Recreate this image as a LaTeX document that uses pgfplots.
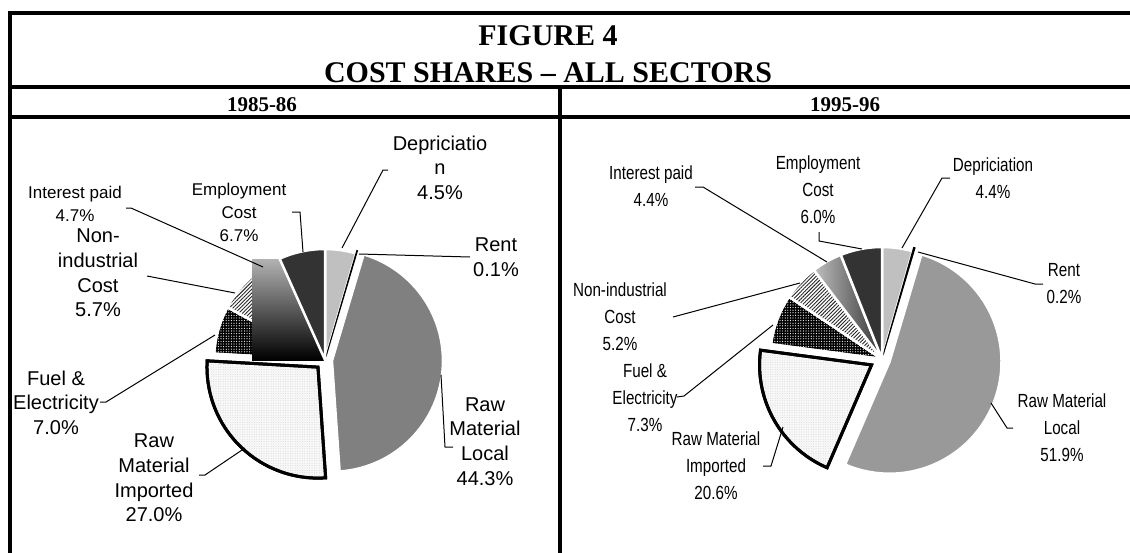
\documentclass[border=0pt]{standalone}
\usepackage{fontspec}
\setmainfont{Liberation Sans}
\newfontfamily\titlefont{Liberation Serif}
\newfontfamily\narrow[FakeStretch=0.8]{Liberation Sans}
\usepackage{pgfplots}
\pgfplotsset{compat=1.18}
\usepackage{pgfplotstable}
\usetikzlibrary{patterns.meta}

\definecolor{lgray}{HTML}{C0C0C0}
\definecolor{mgrayA}{HTML}{808080}
\definecolor{mgrayB}{HTML}{999999}
\definecolor{dgray}{HTML}{333333}

% cost shares in %, explode = offset of the slice in px
\pgfplotstableread{
item share explode
Depreciation 4.5 0
Rent 0.1 3
RawLocal 44.3 7
RawImported 27.0 10
Fuel 7.0 0
NonIndustrial 5.7 0
Interest 4.7 0
Employment 6.7 0
}\pieA
\pgfplotstableread{
item share explode
Depreciation 4.4 0
Rent 0.2 4
RawLocal 51.9 8
RawImported 20.6 12
Fuel 7.3 0
NonIndustrial 5.2 0
Interest 4.4 0
Employment 6.0 0
}\pieB

% start/end angles (clockwise from 12 o'clock) of each slice
\newcommand\pieangles[2]{%
  \xdef\acc{0}%
  \foreach \i in {0,...,7}{%
    \pgfplotstablegetelem{\i}{share}\of#1\let\myv\pgfplotsretval
    \pgfplotstablegetelem{\i}{explode}\of#1\let\mye\pgfplotsretval
    \expandafter\xdef\csname #2s\i\endcsname{\acc}%
    \pgfmathparse{\acc+3.6*\myv}\xdef\acc{\pgfmathresult}%
    \expandafter\xdef\csname #2e\i\endcsname{\acc}%
    \expandafter\xdef\csname #2x\i\endcsname{\mye}%
  }}
\pieangles{\pieA}{A}
\pieangles{\pieB}{B}

% one slice: prefix, row, radius, style
\newcommand\slice[4]{%
  \pgfmathsetmacro\sA{\csname #1s#2\endcsname}%
  \pgfmathsetmacro\eA{\csname #1e#2\endcsname}%
  \pgfmathsetmacro\slx{\csname #1x#2\endcsname*sin((\sA+\eA)/2)}%
  \pgfmathsetmacro\sly{\csname #1x#2\endcsname*cos((\sA+\eA)/2)}%
  \edef\tmp{\noexpand\addplot[#4,domain=\sA:\eA,samples=60,variable=\noexpand\t]
    ({\slx+#3*sin(\noexpand\t)},{\sly+#3*cos(\noexpand\t)}) -- (\slx,\sly) -- cycle;}%
  \tmp}

\tikzset{
  sep/.style={draw=white,line width=1.25pt},
  sDep/.style={sep,fill=lgray},
  sRent/.style={draw=black,line width=0.5pt,fill=black},
  sRMLa/.style={sep,fill=mgrayA},
  sRMLb/.style={sep,fill=mgrayB},
  sRMI/.style={draw=black,line width=1.5pt,fill=black!3,
    postaction={pattern={Dots[distance=1.2pt,radius=0.2pt]},pattern color=black!20}},
  sFuel/.style={sep,fill=black,
    postaction={pattern={Dots[distance=1.3pt,radius=0.3pt]},pattern color=white}},
  sNon/.style={sep,fill=white,
    postaction={pattern={Lines[angle=45,distance=1.3pt,line width=0.45pt]},pattern color=black!85}},
  sIntA/.style={sep,top color=black!30,bottom color=black},
  sIntB/.style={sep,left color=black!25,right color=black!80},
  sEmp/.style={sep,fill=dgray},
  lab/.style={align=center,inner sep=0pt,font=\fontsize{10}{12.3}\selectfont},
  labs/.style={align=center,inner sep=0pt,font=\fontsize{8.5}{11.5}\selectfont},
  labn/.style={align=center,inner sep=0pt,font=\narrow\fontsize{9.5}{13.5}\selectfont},
  lead/.style={line width=0.5pt},
}

\begin{document}
\begin{tikzpicture}
\useasboundingbox (0,0) rectangle (565pt,-276pt);

% 1985-86
\begin{axis}[at={(162.5pt,-180pt)},anchor=center,x=0.5pt,y=0.5pt,
  xmin=-130,xmax=130,ymin=-130,ymax=130,hide axis,clip=false]
\slice{A}{0}{111}{sDep}
\slice{A}{1}{111}{sRent}
\slice{A}{2}{111}{sRMLa}
\slice{A}{3}{111}{sRMI}
\slice{A}{4}{111}{sFuel}
\slice{A}{5}{111}{sNon}
\slice{A}{6}{111}{sIntA}
\addplot[draw=none,top color=black!30,bottom color=black]
  coordinates {(-73,0) (-73,101) (0,101) (0,0)} -- cycle;
\slice{A}{7}{111}{sEmp}
\end{axis}

% 1995-96
\begin{axis}[at={(441pt,-179.5pt)},anchor=center,x=0.5pt,y=0.5pt,
  xmin=-130,xmax=130,ymin=-130,ymax=130,hide axis,clip=false]
\slice{B}{0}{112}{sDep}
\slice{B}{1}{112}{sRent}
\slice{B}{2}{112}{sRMLb}
\slice{B}{3}{112}{sRMI}
\slice{B}{4}{112}{sFuel}
\slice{B}{5}{112}{sNon}
\slice{B}{6}{112}{sIntB}
\slice{B}{7}{112}{sEmp}
\end{axis}

\begin{scope}[x=0.5pt,y=-0.5pt]
% table rules
\draw[line width=2pt,line join=miter] (10,560) -- (10,13) -- (1140,13);
\draw[line width=2pt] (9,87) -- (1140,87);
\draw[line width=2pt] (9,117) -- (1140,117);
\draw[line width=2pt] (560,87) -- (560,560);

\node[font=\titlefont\bfseries\fontsize{15}{18}\selectfont,anchor=base] at (548,45) {FIGURE 4};
\node[font=\titlefont\bfseries\fontsize{15}{18}\selectfont,anchor=base] at (548,82) {COST SHARES – ALL SECTORS};
\node[font=\titlefont\bfseries\fontsize{10.5}{12}\selectfont,anchor=base] at (262,111) {1985-86};
\node[font=\titlefont\bfseries\fontsize{10.5}{12}\selectfont,anchor=base] at (845,111) {1995-96};

% labels 1985-86
\node[lab] at (440,167.5) {Depriciatio\\n\\4.5\%};
\node[lab] at (496,257.5) {Rent\\0.1\%};
\node[lab] at (485,441.5) {Raw\\Material\\Local\\44.3\%};
\node[lab] at (154,478) {Raw\\Material\\Imported\\27.0\%};
\node[lab] at (56,402.5) {Fuel \&\\Electricity\\7.0\%};
\node[lab] at (98,273) {Non-\\industrial\\Cost\\5.7\%};
\node[labs] at (75,204) {Interest paid\\4.7\%};
\node[labs] at (239,212.5) {Employment\\Cost\\6.7\%};

\draw[lead] (342,248) -- (383,170) -- (388,170);
\draw[lead] (359,254) -- (470,257);
\draw[lead] (441,375) -- (445,447) -- (453,447);
\draw[lead] (245,448) -- (205,475) -- (199,475);
\draw[lead] (215,335) -- (106,402) -- (100,402);
\draw[lead] (235,293) -- (147,276);
\draw[lead] (263,267) -- (131,208) -- (126,208);
\draw[lead] (303,252) -- (300,212) -- (292,212);

% labels 1995-96
\node[labn] at (651,186.5) {Interest paid\\4.4\%};
\node[labn] at (818,190) {Employment\\Cost\\6.0\%};
\node[labn] at (993,178) {Depriciation\\4.4\%};
\node[labn] at (1064,283.5) {Rent\\0.2\%};
\node[labn] at (620,317) {Non-industrial\\Cost\\5.2\%};
\node[labn] at (645,397.5) {Fuel \&\\Electricity\\7.3\%};
\node[labn] at (716,466) {Raw Material\\Imported\\20.6\%};
\node[labn] at (1062,428) {Raw Material\\Local\\51.9\%};

\draw[lead] (902,248) -- (942,178) -- (950,178);
\draw[lead] (918,252) -- (1035,284) -- (1043,284);
\draw[lead] (991,403) -- (1007,428) -- (1013,428);
\draw[lead] (783,427) -- (771,466) -- (763,466);
\draw[lead] (773,325) -- (684,396) -- (677,397);
\draw[lead] (800,283) -- (673,317);
\draw[lead] (827,262) -- (703,187) -- (695,187);
\draw[lead] (862,249) -- (819,241) -- (819,232);
\end{scope}
\end{tikzpicture}
\end{document}
